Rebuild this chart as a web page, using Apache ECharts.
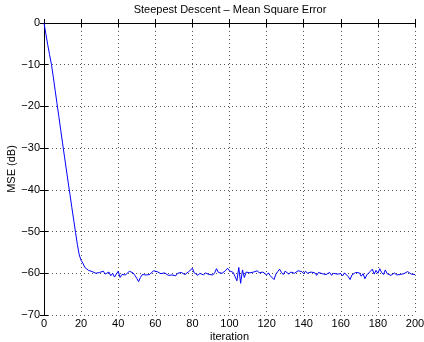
<!DOCTYPE html>
<html>
<head>
<meta charset="utf-8">
<script src="https://cdn.jsdelivr.net/npm/echarts@6/dist/echarts.min.js"></script>
<style>html,body{margin:0;padding:0;background:#fff}#c{width:424px;height:342px}</style>
</head>
<body>
<div id="c"></div>
<script>
// MSE (dB) per iteration
var mse0to24 = [0, -2.6, -5.2, -7.6, -9.9, -12.9, -16.1, -19.3, -22.4, -25.6, -28.8, -31.9, -35.0, -38.1, -41.1, -44.2, -47.2, -50.2, -53.1, -55.6, -56.9, -57.6, -58.6, -58.2, -59.3];
var mse25to54 = [-58.9, -59.6, -59.2, -60.0, -60.3, -59.8, -59.4, -59.5, -60.2, -60.4, -59.7, -60.6, -60.0, -60.9, -60.2, -59.5, -61.0, -60.3, -60.7, -60.4, -60.1, -59.5, -59.3, -59.9, -60.5, -61.2, -62.0, -61.0, -60.3, -60.1];
var mse55to89 = [-60.4, -60.2, -60.3, -59.9, -59.4, -59.0, -59.6, -59.8, -60.1, -60.3, -59.9, -60.2, -60.5, -60.1, -60.4, -60.7, -60.6, -60.0, -60.2, -59.8, -59.9, -60.3, -60.0, -59.6, -59.7, -58.8, -59.9, -60.1, -60.5, -60.0, -60.2, -60.4, -59.9, -60.0, -60.3];
var mse90to119 = [-60.1, -60.4, -59.9, -58.9, -59.8, -59.7, -60.0, -59.6, -59.3, -58.8, -59.4, -59.2, -59.8, -60.1, -61.8, -58.6, -62.4, -59.2, -61.0, -59.7, -60.1, -59.9, -60.3, -59.7, -59.8, -59.4, -59.9, -60.2, -59.7, -60.0];
var mse120to149 = [-60.4, -59.9, -60.6, -61.0, -61.5, -60.2, -59.6, -59.0, -59.8, -60.3, -59.5, -59.9, -60.2, -59.7, -59.8, -60.0, -59.9, -59.4, -59.7, -59.6, -60.1, -59.5, -60.0, -60.3, -59.7, -59.3, -59.9, -60.5, -59.8, -59.6];
var mse150to200 = [-60.1, -59.7, -60.3, -60.0, -59.8, -60.5, -60.0, -59.6, -60.2, -60.4, -60.1, -60.6, -59.9, -60.3, -60.8, -61.5, -60.4, -60.0, -59.8, -60.2, -59.9, -60.7, -60.1, -61.3, -60.4, -60.6, -59.5, -59.0, -60.2, -59.3, -60.0, -58.9, -59.8, -60.3, -59.2, -60.1, -59.7, -60.5, -60.2, -59.9, -60.4, -60.0, -60.3, -60.6, -60.1, -59.9, -59.6, -59.8, -60.2, -60.0, -60.3];

var titleText = 'Steepest Descent \u2013 Mean Square Error';
var xName = 'iteration';
var yName = 'MSE (dB)';

var mse = [].concat(mse0to24, mse25to54, mse55to89, mse90to119, mse120to149, mse150to200);
var points = mse.map(function (v, i) { return [i, v]; });

var FONT = '"Liberation Sans", Arial, sans-serif';
var fmtY = function (v) { return String(v).replace('-', '\u2212'); };
var gridLine = { show: true, lineStyle: { color: '#555', type: [1, 3], width: 1 } };
var axLine = { show: true, lineStyle: { color: '#000', width: 1 } };
var tick = { show: true, inside: true, length: 4, lineStyle: { color: '#000' } };

var chart = echarts.init(document.getElementById('c'), null, { renderer: 'canvas' });
chart.setOption({
  animation: false,
  backgroundColor: '#fff',
  title: {
    text: titleText, left: 230, top: 4, textAlign: 'center', padding: 0,
    textStyle: { fontFamily: FONT, fontSize: 11, fontWeight: 'normal', color: '#000' }
  },
  grid: { left: 44, right: 9, top: 23, bottom: 27, containLabel: false, outerBoundsMode: 'none' },
  xAxis: [{
    type: 'value', min: 0, max: 200, interval: 20, position: 'bottom',
    name: xName, nameLocation: 'middle', nameGap: 16, nameMoveOverlap: false,
    nameTextStyle: { fontFamily: FONT, fontSize: 11, color: '#000' },
    axisLine: axLine, axisTick: tick, splitLine: gridLine,
    axisLabel: { fontFamily: FONT, fontSize: 11, color: '#000', margin: 3 }
  }, {
    type: 'value', min: 0, max: 200, interval: 20, position: 'top',
    axisLine: axLine, axisTick: tick, splitLine: { show: false }, axisLabel: { show: false }
  }],
  yAxis: [{
    type: 'value', min: -70, max: 0, interval: 10, position: 'left',
    name: yName, nameLocation: 'middle', nameGap: 27, nameRotate: 90, nameMoveOverlap: false,
    nameTextStyle: { fontFamily: FONT, fontSize: 11, color: '#000' },
    axisLine: axLine, axisTick: tick, splitLine: gridLine,
    axisLabel: { fontFamily: FONT, fontSize: 11, color: '#000', margin: 4, formatter: fmtY }
  }, {
    type: 'value', min: -70, max: 0, interval: 10, position: 'right',
    axisLine: axLine, axisTick: tick, splitLine: { show: false }, axisLabel: { show: false }
  }],
  series: [{
    type: 'line', data: points, showSymbol: false, symbol: 'none',
    lineStyle: { color: '#0000ff', width: 1 }, itemStyle: { color: '#0000ff' }
  }]
});
</script>
</body>
</html>
